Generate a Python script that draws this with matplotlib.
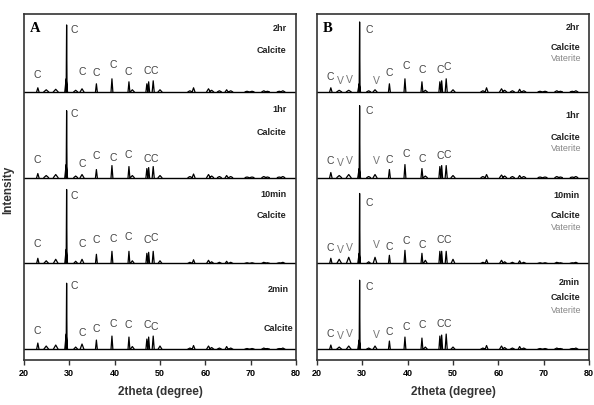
import numpy as np
import matplotlib
matplotlib.use("Agg")
import matplotlib.pyplot as plt

#### DATA #####
# peak positions (2theta, degree) and half widths shared by every pattern
peak_pos = [23.05, 24.9, 27.0, 29.4, 31.4, 32.8, 35.97, 39.4, 43.15, 43.9, 47.1, 47.5,
            48.5, 50.0, 56.6, 57.4, 60.7, 61.4, 63.1, 64.7, 65.6, 69.2, 70.3, 72.9,
            73.7, 76.3, 77.1]
peak_hw = [0.25, 0.5, 0.5, 0.1, 0.4, 0.4, 0.2, 0.2, 0.2, 0.4, 0.2, 0.2,
           0.22, 0.4, 0.4, 0.3, 0.4, 0.4, 0.4, 0.3, 0.4, 0.4, 0.4, 0.4,
           0.4, 0.4, 0.4]
shoulder_pos = 29.3
shoulder_hw = 0.3

times = ["2hr", "1hr", "10min", "2min"]  # top -> bottom

# peak intensities (a.u.), one row per time
A_heights = [
    [4, 2, 2.5, 67, 1.5, 3, 8, 13, 10, 2, 8, 10, 11, 2, 1, 4, 3, 1.5, 1, 2, 1, 0.5, 0.5, 1, 0.5, 0.5, 1],
    [4, 2, 3, 67, 1.5, 3, 8, 12, 11, 2, 9, 10, 11, 2, 1, 3.5, 3, 1.5, 1, 2, 1, 0.5, 0.5, 1, 0.5, 0.5, 1],
    [5, 2.5, 4, 74, 2, 4, 9, 12, 12, 2.5, 10, 11, 12, 2.5, 1, 3.5, 3, 1.5, 1, 2, 1, 0.5, 0.5, 1, 0.5, 0.5, 1],
    [6, 3, 4, 66, 2, 5, 9, 13, 12, 2.5, 10, 12, 13, 3, 1, 3.5, 3, 1.5, 1, 2.5, 1, 0.5, 0.5, 1, 0.5, 0.5, 1],
]
A_shoulder = [13, 13, 14, 15]

B_heights = [
    [4, 1.5, 1.5, 70, 1, 2, 8, 13, 10, 1.5, 10, 11, 13, 2, 1, 4, 3, 1.5, 1, 2.5, 1, 0.5, 0.5, 1, 0.5, 0.5, 1],
    [5, 2, 3, 72, 1, 3, 8, 13, 9, 1.5, 11, 12, 12, 2, 1, 3, 2.5, 1.5, 1, 2, 1, 0.5, 0.5, 1, 0.5, 0.5, 1],
    [5, 4, 6, 70, 1.5, 6, 8, 13, 10, 3, 12, 12, 12, 4, 1, 3.5, 3, 1.5, 1, 2.5, 1, 0.5, 0.5, 1, 0.5, 0.5, 1],
    [4, 2, 3, 69, 1, 3, 8, 12, 11, 2, 13, 14, 15, 2, 1, 3.5, 3, 1.5, 1, 2.5, 1, 0.5, 0.5, 1, 0.5, 0.5, 1],
]
B_shoulder = [8, 9, 10, 9]

# phase labels over the peaks
A_lab_x = [22.9, 31.0, 32.9, 36.0, 39.6, 43.0, 47.1, 48.7]
A_lab_t = ["C"] * 8
A_lab_dy = [
    [17, 62, 20, 19, 27, 20, 21, 21],
    [18, 64, 14, 22, 20, 23, 19, 19],
    [19, 67, 19, 23, 24, 26, 23, 25],
    [18, 63, 16, 20, 25, 24, 24, 22],
]
B_lab_x = [23.0, 25.2, 27.1, 31.6, 33.0, 36.0, 39.7, 43.3, 47.1, 48.8]
B_lab_t = ["C", "V", "V", "C", "V", "C", "C", "C", "C", "C"]
B_lab_dy = [
    [15, 11, 12, 62, 11, 19, 26, 22, 22, 25],
    [17, 15, 17, 67, 17, 18, 24, 19, 22, 23],
    [15, 13, 15, 60, 18, 16, 22, 18, 23, 23],
    [15, 13, 15, 62, 14, 17, 22, 24, 25, 25],
]

# right hand legends
A_time_dy = [63, 68, 69, 60]
A_calc_dy = [41, 45, 48, 21]
B_time_dy = [64, 62, 68, 67]
B_calc_dy = [44, 40, 48, 52]
B_vat_dy = [33, 29, 36, 39]

STEP = 86  # vertical offset between stacked patterns
NARROW = ["Liberation Sans Narrow", "Liberation Sans", "DejaVu Sans"]


def pattern_xy(heights, shoulder):
    xs, ys = [], []
    for p, w, h in zip(peak_pos, peak_hw, heights):
        xs += [p - w, p, p + w, np.nan]
        ys += [0, h, 0, np.nan]
    xs += [shoulder_pos - shoulder_hw, shoulder_pos, shoulder_pos + shoulder_hw]
    ys += [0, shoulder, 0]
    return np.array(xs), np.array(ys)


def draw_panel(ax, letter, heights, shoulders, lab_x, lab_t, lab_dy,
               time_dy, calc_dy, vat_dy=None):
    for i, t in enumerate(times):
        base = (3 - i) * STEP
        x, y = pattern_xy(heights[i], shoulders[i])
        ax.axhline(base, color="black", lw=1.0, zorder=2)
        ax.plot(x, y + base, color="black", lw=0.9, zorder=3)
        for lx, lt, ld in zip(lab_x, lab_t, lab_dy[i]):
            col = "#444444" if lt == "C" else "#777777"
            ax.text(lx, base + ld, lt, fontsize=7.5, color=col, ha="center", va="center",
                    family=["Liberation Sans", "DejaVu Sans"])
        if vat_dy is None:
            xr = 78.5 if i == 3 else 77.9
            ax.text(xr, base + time_dy[i], t, fontsize=6.5, fontweight="bold",
                    ha="right", va="center", family=NARROW, color="#222222")
            ax.text(79.5 if i == 3 else 77.9, base + calc_dy[i], "Calcite", fontsize=6.5,
                    fontweight="bold", ha="right", va="center", family=NARROW, color="#222222")
        else:
            ax.text(77.9, base + time_dy[i], t, fontsize=6.5, fontweight="bold",
                    ha="right", va="center", family=NARROW, color="#222222")
            ax.text(71.6, base + calc_dy[i], "Calcite", fontsize=6.5, fontweight="bold",
                    ha="left", va="center", family=NARROW, color="#222222")
            ax.text(71.6, base + vat_dy[i], "Vaterite", fontsize=6.5,
                    ha="left", va="center", family=NARROW, color="#888888")

    ax.text(21.3, 3 * STEP + 63, letter, fontsize=10.5, fontweight="bold",
            family=["Liberation Serif", "DejaVu Serif"], ha="left", va="center")

    ax.set_xlim(20, 80)
    ax.set_ylim(-11, 3 * STEP + 78)
    ax.set_xticks([20, 30, 40, 50, 60, 70, 80])
    ax.set_yticks([])
    ax.tick_params(axis="x", length=3.5, width=1.0, labelsize=6.5, pad=3, color="#333333")
    for lab in ax.get_xticklabels():
        lab.set_fontweight("bold")
        lab.set_family(NARROW)
    for s in ax.spines.values():
        s.set_linewidth(1.2)
        s.set_color("#333333")
    ax.set_xlabel("2theta (degree)", fontsize=8.5, fontweight="bold", color="#333333",
                  family=["Liberation Sans", "DejaVu Sans"], labelpad=6)


##### Figure #####
fig = plt.figure(figsize=(5.94, 4.05), dpi=100)
axA = fig.add_axes([24 / 594, 1 - 360 / 405, 272 / 594, 346 / 405])
axB = fig.add_axes([317 / 594, 1 - 360 / 405, 272 / 594, 346 / 405])

draw_panel(axA, "A", A_heights, A_shoulder, A_lab_x, A_lab_t, A_lab_dy,
           A_time_dy, A_calc_dy)
draw_panel(axB, "B", B_heights, B_shoulder, B_lab_x, B_lab_t, B_lab_dy,
           B_time_dy, B_calc_dy, B_vat_dy)

fig.text(8 / 594, 1 - 190 / 405, "Intensity", rotation=90, fontsize=8.5, fontweight="bold",
         color="#333333", ha="center", va="center", family=["Liberation Sans", "DejaVu Sans"])

fig.savefig("out.png", dpi=100)
